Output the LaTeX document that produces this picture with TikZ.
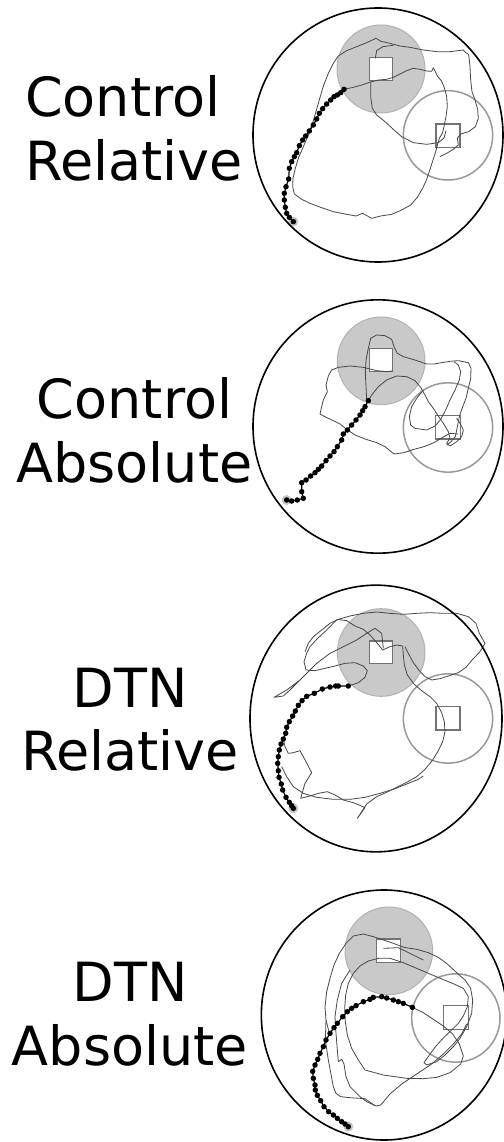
\documentclass[tikz,border=0pt]{standalone}
\usepackage{fontspec}
\setmainfont{DejaVu Sans}
\tikzset{
  bigc/.style={draw=black, line width=1.6pt},
  zone/.style={fill=black!21, draw=black!30, line width=1pt},
  ring/.style={draw=black!40, line width=1.5pt},
  sqr/.style={draw=black!55, line width=1.1pt},
  trk/.style={draw=black!72, line width=0.8pt, line join=round},
  dotp/.style={draw=black, line width=1.2pt, mark=*, mark size=6.3pt, mark options={fill=black,draw=black}},
  halo/.style={fill=black!22},
  lab/.style={font=\fontsize{54}{63}\selectfont, inner sep=0pt},
}
\begin{document}
\begin{tikzpicture}[x=1pt,y=-1pt]
\useasboundingbox[fill=white] (0,0) rectangle (503,1142);

% ---------- labels ----------
\node[lab, anchor=base west] (c1a) at (25,117) {Control};
\node[lab, anchor=base west] (c1b) at (25,180) {Relative};
\node[lab, anchor=base] (c2a) at (134.5,418) {Control};
\node[lab, anchor=base] (c2b) at (134.5,482) {Absolute};
\node[lab, anchor=base] (c3a) at (130,707) {DTN};
\node[lab, anchor=base] (c3b) at (130,770) {Relative};
\node[lab, anchor=base] (c4a) at (130,1001) {DTN};
\node[lab, anchor=base] (c4b) at (130,1065) {Absolute};

% ---------- panel 1 ----------
\begin{scope}[shift={(250,0)},scale=1/3]
\path[zone] (393,207) circle[radius=132];
\path[ring] (594,406) circle[radius=134];
\path[sqr, fill=white] (358,172) rectangle (428,242);
\path[sqr] (558,372) rectangle (630,442);
\draw[trk] (282,268) -- (310,262) -- (335,255) -- (362,246) -- (385,240) -- (410,238) -- (430,232) -- (450,222) -- (470,212) -- (490,205) -- (510,208) -- (530,213) -- (545,214) -- (550,203) -- (556,215) -- (562,228) -- (574,242) -- (583,263) -- (590,290) -- (592,320) -- (588,350) -- (582,380) -- (577,400) -- (568,415) -- (563,432) -- (557,455) -- (549,480) -- (540,508) -- (530,538) -- (518,565) -- (502,592) -- (482,615) -- (455,630) -- (425,643) -- (392,648) -- (365,655) -- (338,640) -- (318,648) -- (290,643) -- (250,635) -- (212,622) -- (180,610) -- (155,598) -- (133,582) -- (128,560) -- (129,535) -- (136,505) -- (146,472) -- (160,440) -- (175,405) -- (190,362) -- (205,310) -- (220,258) -- (235,220) -- (250,190) -- (265,168) -- (290,152) -- (320,140) -- (350,128) -- (378,115) -- (393,124) -- (420,130) -- (450,138) -- (480,142) -- (520,150) -- (560,155) -- (600,155) -- (640,150) -- (647,158) -- (656,163) -- (660,200) -- (662,240) -- (666,275) -- (675,300) -- (683,328) -- (685,355) -- (676,380) -- (656,395) -- (632,402) -- (622,415) -- (625,435) -- (610,448) -- (590,460) -- (570,470);
\draw[trk] (362,246) -- (362,290) -- (367,325) -- (380,345) -- (405,365) -- (430,388) -- (455,410) -- (490,428) -- (530,433) -- (565,428) -- (582,414) -- (588,392);
\draw[trk] (376,175) -- (380,152) -- (398,140) -- (430,136);
\fill[halo] (130,665) circle[radius=15];
\draw[dotp] plot coordinates {(130,665) (118,652) (110,640) (106,622) (103,600) (103,580) (108,560) (116,537) (118,505) (125,485) (133,470) (140,458) (148,437) (158,420) (167,408) (178,393) (190,375) (200,357) (208,340) (218,326) (230,312) (242,300) (252,290) (262,285) (272,278) (282,268)};
\path[bigc] (384,405) ellipse[x radius=375, y radius=381];
\end{scope}

% ---------- panel 2 ----------
\begin{scope}[shift={(250,290)},scale=1/3]
\path[zone] (393.5,212.5) circle[radius=131.5];
\path[ring] (594,412.5) circle[radius=134];
\path[sqr, fill=white] (358,175) rectangle (428,245);
\path[sqr] (557,377) rectangle (632,447);
\draw[trk] (355,332) -- (365,315) -- (385,290) -- (410,270) -- (440,258) -- (470,260) -- (495,272) -- (512,292) -- (525,315) -- (535,335) -- (550,355) -- (565,378) -- (580,400) -- (595,425) -- (600,445) -- (590,460) -- (600,468) -- (620,455) -- (635,440) -- (640,420) -- (630,400) -- (620,385);
\draw[trk] (350,330) -- (348,290) -- (346,250) -- (348,210) -- (355,175) -- (362,145) -- (380,135) -- (405,137) -- (425,148) -- (432,170) -- (442,190) -- (460,200) -- (485,207) -- (510,215) -- (530,222) -- (552,222) -- (575,218) -- (600,214) -- (625,212) -- (655,218) -- (663,235) -- (662,265) -- (655,295) -- (648,325) -- (638,350) -- (628,380) -- (622,410) -- (616,440) -- (600,458) -- (590,465);
\draw[trk] (428,243) -- (410,245) -- (380,242) -- (340,232) -- (300,228) -- (265,232) -- (245,240) -- (235,258) -- (228,285) -- (232,305) -- (220,330) -- (215,350) -- (210,372) -- (228,382) -- (250,392) -- (270,402) -- (290,418) -- (315,435) -- (345,447) -- (380,458) -- (405,470) -- (432,492) -- (462,488) -- (492,478) -- (522,470) -- (552,458) -- (578,442) -- (600,430) -- (625,432);
\draw[trk] (520,300) -- (500,325) -- (485,350) -- (478,380) -- (482,405) -- (495,415) -- (530,420) -- (555,408) -- (572,388) -- (587,360) -- (600,330) -- (615,300) -- (628,270) -- (632,245) -- (625,225) -- (612,215);
\fill[halo] (110,630) circle[radius=15];
\draw[dotp] plot coordinates {(110,630) (125,633) (142,630) (160,625) (155,605) (155,578) (168,570) (182,558) (195,548) (205,538) (215,528) (228,512) (240,498) (252,485) (262,470) (275,450) (280,432) (292,420) (305,405) (318,390) (330,375) (338,362) (345,350) (355,332)};
\path[bigc] (384,409.5) ellipse[x radius=375, y radius=380];
\end{scope}

% ---------- panel 3 ----------
\begin{scope}[shift={(250,580)},scale=1/3]
\path[zone] (393.5,217.5) circle[radius=131.5];
\path[ring] (594,415.5) circle[radius=134];
\path[sqr, fill=white] (358,183) rectangle (428,250);
\path[sqr] (558,380) rectangle (630,450);
\draw[trk] (295,318) -- (325,308) -- (345,292) -- (352,272) -- (340,258) -- (315,248) -- (285,250) -- (255,258) -- (225,265) -- (195,272) -- (168,270) -- (162,245) -- (170,220) -- (180,200) -- (200,178) -- (230,150) -- (262,118) -- (290,122) -- (315,138) -- (340,148) -- (360,165) -- (382,190) -- (398,210) -- (420,200) -- (440,195) -- (458,198) -- (460,225) -- (463,255) -- (472,285) -- (492,312) -- (515,332) -- (540,350) -- (560,370) -- (575,398) -- (583,425) -- (585,455) -- (578,485) -- (565,512) -- (548,540) -- (525,568) -- (500,590) -- (470,607) -- (440,622) -- (410,637) -- (380,650) -- (350,672) -- (322,715) -- (345,683) -- (310,668) -- (280,660) -- (255,645) -- (232,635) -- (205,640) -- (180,648) -- (152,655) -- (165,610) -- (185,578) -- (168,545) -- (150,512) -- (130,518) -- (115,520) -- (105,500) -- (100,475);
\draw[trk] (165,215) -- (175,190) -- (190,170) -- (215,150) -- (240,130) -- (265,118) -- (300,108) -- (340,100) -- (380,96) -- (420,100) -- (460,103) -- (500,100) -- (540,98) -- (580,100) -- (620,100) -- (655,110) -- (678,130) -- (688,160) -- (705,190) -- (690,215) -- (668,238) -- (648,262) -- (625,278) -- (598,287) -- (570,296) -- (545,300) -- (525,290) -- (508,272) -- (490,248) -- (476,222) -- (465,200);
\draw[trk] (150,300) -- (110,330) -- (72,352) -- (100,348) -- (120,330) -- (160,290) -- (200,250) -- (240,220) -- (280,200) -- (320,180) -- (350,160) -- (375,145) -- (395,160) -- (400,205);
\draw[trk] (95,560) -- (110,590) -- (130,620) -- (160,640) -- (200,652) -- (250,658) -- (300,658) -- (345,652) -- (390,640) -- (430,628) -- (470,612) -- (505,598) -- (520,588);
\fill[halo] (130,685) circle[radius=15];
\draw[dotp] plot coordinates {(130,685) (125,677) (118,667) (108,652) (98,630) (94,612) (87,592) (85,572) (83,550) (85,530) (88,510) (93,492) (100,477) (107,460) (110,442) (118,425) (128,408) (136,393) (145,376) (156,362) (170,349) (193,340) (217,327) (240,321) (257,318) (265,318) (295,318)};
\path[bigc] (378,415.5) ellipse[x radius=378, y radius=400];
\end{scope}

% ---------- panel 4 ----------
\begin{scope}[shift={(250,860)},scale=1/3]
\path[zone] (416.5,272.5) circle[radius=131.5];
\path[ring] (617.5,474) circle[radius=132.5];
\path[sqr, fill=white] (380,237) rectangle (452,307);
\path[sqr] (580,437) rectangle (655,508);
\draw[trk] (487,442) -- (520,458) -- (550,478) -- (580,498) -- (608,522) -- (628,552) -- (640,588) -- (632,612) -- (600,638) -- (560,652) -- (520,656) -- (470,655) -- (400,645) -- (345,630) -- (325,600) -- (305,565) -- (292,525) -- (286,485) -- (284,445) -- (287,405) -- (295,370) -- (310,340) -- (330,318) -- (355,303) -- (385,295) -- (420,295) -- (460,308) -- (500,325) -- (540,342) -- (578,358) -- (612,372) -- (640,385) -- (655,410) -- (652,440) -- (640,468) -- (625,490) -- (605,510) -- (582,532) -- (558,558) -- (538,585) -- (522,608) -- (530,615) -- (560,605) -- (585,585) -- (610,560) -- (630,535) -- (650,500) -- (665,460) -- (668,420) -- (662,385) -- (645,360) -- (620,338) -- (592,312) -- (565,292) -- (535,278) -- (500,268) -- (462,262) -- (430,250) -- (400,240) -- (370,230) -- (340,222) -- (310,228) -- (288,250) -- (268,280) -- (252,315) -- (240,355) -- (230,395) -- (225,440) -- (228,480) -- (236,512);
\draw[trk] (300,330) -- (275,370) -- (262,420) -- (255,470) -- (258,520) -- (262,570) -- (265,605) -- (275,598) -- (282,612) -- (288,650) -- (300,680) -- (330,710) -- (350,725) -- (378,738) -- (392,735) -- (420,702) -- (455,672) -- (500,642) -- (545,612) -- (580,582) -- (610,552) -- (635,522) -- (650,492);
\draw[trk] (228,480) -- (226,540) -- (235,600) -- (250,680) -- (258,700) -- (272,710) -- (300,713) -- (345,716) -- (375,737);
\draw[trk] (400,265) -- (445,263) -- (480,280) -- (520,300);
\fill[halo] (295,800) circle[radius=15];
\draw[dotp] plot coordinates {(295,800) (285,792) (275,785) (262,775) (250,765) (236,755) (222,740) (212,722) (202,706) (196,690) (195,675) (190,655) (188,634) (195,615) (203,598) (210,580) (220,560) (228,540) (240,520) (252,503) (262,490) (278,470) (292,455) (305,445) (318,437) (340,425) (360,418) (370,412) (395,410) (410,414) (430,420) (445,425) (460,430) (487,442)};
\path[bigc] (402,465) ellipse[x radius=368, y radius=375];
\end{scope}
\end{tikzpicture}
\end{document}
